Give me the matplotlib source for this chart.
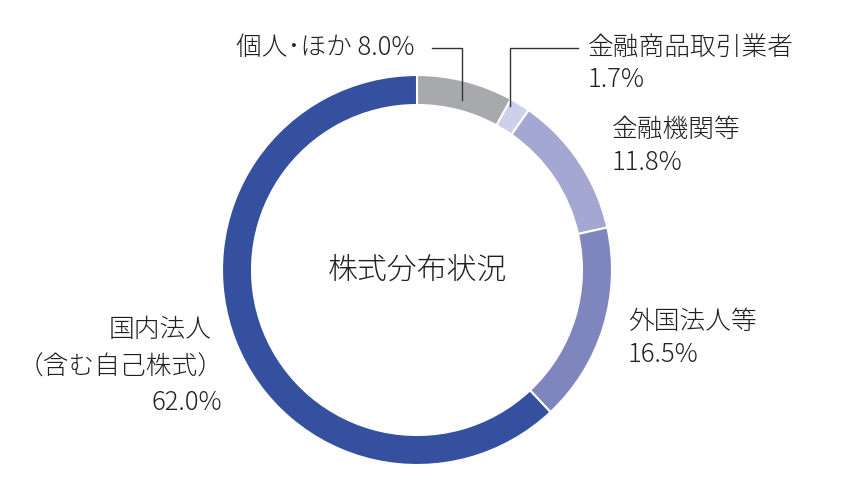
import matplotlib
matplotlib.use("Agg")
import matplotlib.pyplot as plt

categories = ["個人･ほか", "金融商品取引業者", "金融機関等", "外国法人等", "国内法人"]
values = [8.0, 1.7, 11.8, 16.5, 62.0]
colors = ["#a7a9ac", "#cdd0e8", "#a5a7d3", "#7f86bd", "#34509e"]

plt.rcParams["font.family"] = "Noto Sans CJK JP"
W, H = 866, 500
fig = plt.figure(figsize=(W/100, H/100), dpi=100)
cx, cy, R = 417, 270, 195
ax = fig.add_axes([(cx-R)/W, (H-cy-R)/H, 2*R/W, 2*R/H])
ax.pie(values, colors=colors, startangle=90, counterclock=False, radius=1,
       wedgeprops=dict(width=30/195, edgecolor="white", linewidth=1.5))
ax.set_xlim(-1, 1); ax.set_ylim(-1, 1); ax.set_aspect("equal"); ax.axis("off")

tc = "#231f20"
fs = 18.5
def t(x, y, s, ha="left", size=fs):
    fig.text(x/W, 1-y/H, s, ha=ha, va="center", fontsize=size, color=tc, fontweight="light")

t(cx, cy, "株式分布状況", ha="center", size=21.5)
t(415, 48, f"{categories[0]} {values[0]:.1f}%", ha="right")
t(588, 48, categories[1]); t(588, 80, f"{values[1]:.1f}%")
t(612, 130, categories[2]); t(612, 163, f"{values[2]:.1f}%")
t(628, 322, categories[3]); t(628, 355, f"{values[3]:.1f}%")
t(212, 330, categories[4], ha="right")
t(224, 367, "（含む自己株式）", ha="right")
t(222, 403, f"{values[4]:.1f}%", ha="right")

def line(xs, ys):
    fig.add_artist(plt.Line2D([x/W for x in xs], [1-y/H for y in ys], color="#333333", lw=1))
line([432, 462, 462], [48, 48, 100])
line([578, 510, 510], [48, 48, 106])

fig.savefig("out.png", dpi=100)
